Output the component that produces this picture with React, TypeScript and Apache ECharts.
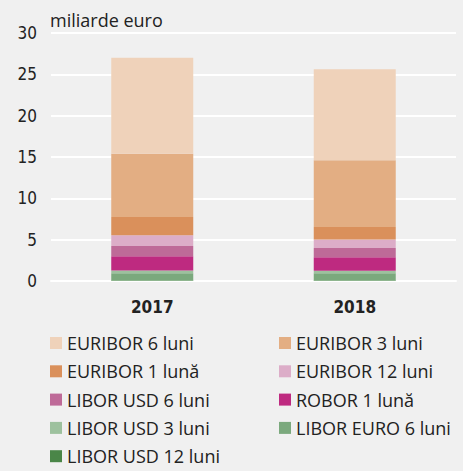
import React, { useEffect, useRef } from "react";
import * as echarts from "echarts";

const categories = ["2017", "2018"];
const seriesNames = [
  "LIBOR USD 12 luni",
  "LIBOR EURO 6 luni",
  "LIBOR USD 3 luni",
  "ROBOR 1 lună",
  "LIBOR USD 6 luni",
  "EURIBOR 12 luni",
  "EURIBOR 1 lună",
  "EURIBOR 3 luni",
  "EURIBOR 6 luni",
];
const liborUsd12 = [0.05, 0.05];
const liborEuro6 = [0.9, 0.9];
const liborUsd3 = [0.32, 0.29];
const robor1 = [1.73, 1.64];
const liborUsd6 = [1.22, 1.1];
const euribor12 = [1.3, 1.05];
const euribor1 = [2.21, 1.49];
const euribor3 = [7.67, 8.08];
const euribor6 = [11.6, 11.0];
const seriesValues = [liborUsd12, liborEuro6, liborUsd3, robor1, liborUsd6, euribor12, euribor1, euribor3, euribor6];
const colors = ["#4A8648", "#7BA97D", "#9DC19E", "#BE2A80", "#BE6A98", "#DCADC8", "#DA905B", "#E3AE83", "#EFD2BA"];
const yTicks = [0, 5, 10, 15, 20, 25, 30];

const legendLeft = ["EURIBOR 6 luni", "EURIBOR 1 lună", "LIBOR USD 6 luni", "LIBOR USD 3 luni", "LIBOR USD 12 luni"];
const legendRight = ["EURIBOR 3 luni", "EURIBOR 12 luni", "ROBOR 1 lună", "LIBOR EURO 6 luni"];

const BG = "#F0F0F0";
const NARROW = '"Liberation Sans Narrow", "DejaVu Sans Condensed", sans-serif';
const TEXT = '"Open Sans", "Noto Sans", sans-serif';

export default function App() {
  const ref = useRef<HTMLDivElement>(null);
  useEffect(() => {
    document.body.style.margin = "0";
    document.body.style.background = BG;
    const chart = echarts.init(ref.current!, null, { renderer: "svg" });
    const legendCommon = {
      orient: "vertical",
      padding: 0,
      itemWidth: 12,
      itemHeight: 12,
      itemGap: 8.3,
      icon: "rect",
      selectedMode: false,
      textStyle: { fontFamily: TEXT, fontSize: 18, color: "#222", lineHeight: 20, padding: [0, 0, 0, 0] },
    };
    chart.setOption({
      animation: false,
      backgroundColor: BG,
      color: colors,
      grid: { left: 51, right: 7, top: 33, bottom: 190 },
      graphic: [
        {
          type: "text",
          left: 50,
          top: 11,
          style: { text: "miliarde euro", fontFamily: TEXT, fontSize: 18, fill: "#222" },
        },
      ],
      legend: [
        { ...legendCommon, left: 50, top: 333, data: legendLeft },
        { ...legendCommon, left: 279, top: 333, data: legendRight },
      ],
      xAxis: {
        type: "category",
        data: categories,
        axisLine: { lineStyle: { color: "#FFFFFF", width: 2 } },
        axisTick: { lineStyle: { color: "#FFFFFF", width: 2 }, length: 6 },
        axisLabel: { fontFamily: NARROW, fontSize: 17, color: "#222", fontWeight: "bold", margin: 17 },
      },
      yAxis: {
        type: "value",
        min: yTicks[0],
        max: yTicks[yTicks.length - 1],
        interval: 5,
        axisLine: { show: false },
        axisTick: { show: false },
        splitLine: { lineStyle: { color: "#FFFFFF", width: 2 } },
        axisLabel: { fontFamily: NARROW, fontSize: 17, color: "#222", margin: 14 },
      },
      series: seriesNames.map((name, i) => ({
        name,
        type: "bar",
        stack: "total",
        barWidth: "40.5%",
        data: seriesValues[i],
        itemStyle: { color: colors[i] },
      })),
    });
    return () => chart.dispose();
  }, []);
  return <div ref={ref} style={{ width: 463, height: 471 }} />;
}
